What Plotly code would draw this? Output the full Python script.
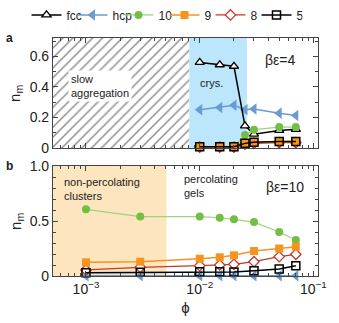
import plotly.graph_objects as go

# ---------------- data ----------------
phi_a = [0.01, 0.015, 0.02, 0.025, 0.03, 0.05, 0.07]
a_fcc = [0.56, 0.545, 0.535, 0.145, 0.09, 0.115, 0.122]
a_hcp = [0.25, 0.265, 0.28, 0.25, 0.255, 0.228, 0.212]
a_10 = [0.005, 0.005, 0.008, 0.085, 0.12, 0.137, 0.137]
a_9 = [0.008, 0.008, 0.008, 0.03, 0.037, 0.042, 0.042]
a_8 = [0.006, 0.006, 0.006, 0.025, 0.03, 0.035, 0.035]
a_5 = [0.008, 0.008, 0.008, 0.03, 0.037, 0.042, 0.042]

phi_b = [0.001, 0.003, 0.01, 0.015, 0.02, 0.03, 0.05, 0.07]
b_hcp = [0.002, 0.002, 0.002, 0.002, 0.002, 0.002, 0.002, 0.002]
b_10 = [0.606, 0.54, 0.54, 0.53, 0.515, 0.49, 0.40, 0.327]
b_9 = [0.124, 0.13, 0.157, 0.17, 0.188, 0.227, 0.25, 0.267]
b_8 = [0.055, 0.079, 0.094, 0.1, 0.106, 0.13, 0.176, 0.197]
b_5 = [0.03, 0.033, 0.039, 0.039, 0.036, 0.048, 0.064, 0.094]

series_names = ["fcc", "hcp", "10", "9", "8", "5"]

# region boundaries (phi)
x_min_log, x_max_log = -3.29, -0.96
hatch_end = 0.0081
crys_end = 0.026
noperc_end = 0.0051
ya_max = 0.72
yb_max = 1.0

xtick_vals = [0.001, 0.01, 0.1]
xtick_text = ["10<sup>−3</sup>", "10<sup>−2</sup>", "10<sup>−1</sup>"]

FONT = "Liberation Sans, Arial, sans-serif"

styles = {
    "fcc": dict(line=dict(color="black", width=1.5),
                marker=dict(symbol="triangle-up", size=8, color="white",
                            line=dict(color="black", width=1.3))),
    "hcp": dict(line=dict(color="#6A9BD2", width=1.5),
                marker=dict(symbol="triangle-left", size=10, color="#6A9BD2",
                            line=dict(width=0))),
    "10": dict(line=dict(color="#9ED27E", width=1.2),
               marker=dict(symbol="circle", size=8, color="#73BF45",
                           line=dict(width=0))),
    "9": dict(line=dict(color="#F7931E", width=1.5),
              marker=dict(symbol="square", size=8, color="#F7931E",
                          line=dict(width=0))),
    "8": dict(line=dict(color="#C0392B", width=1.3),
              marker=dict(symbol="diamond", size=8, color="white",
                          line=dict(color="#C0392B", width=1.3))),
    "5": dict(line=dict(color="black", width=1.5),
              marker=dict(symbol="square-open", size=8, color="black",
                          line=dict(color="black", width=1.5))),
}

fig = go.Figure()

# background regions
xlo = 10 ** x_min_log
fig.add_trace(go.Scatter(
    x=[xlo, hatch_end, hatch_end, xlo, xlo], y=[0, 0, ya_max, ya_max, 0],
    mode="none", fill="toself", fillcolor="white",
    fillpattern=dict(shape="/", fgcolor="#222222", bgcolor="white",
                     size=7, solidity=0.22),
    showlegend=False, hoverinfo="skip", xaxis="x", yaxis="y"))
fig.add_trace(go.Scatter(
    x=[hatch_end, crys_end, crys_end, hatch_end, hatch_end],
    y=[0, 0, ya_max, ya_max, 0],
    mode="none", fill="toself", fillcolor="#BBE6FB",
    showlegend=False, hoverinfo="skip", xaxis="x", yaxis="y"))
fig.add_trace(go.Scatter(
    x=[xlo, noperc_end, noperc_end, xlo, xlo], y=[0, 0, yb_max, yb_max, 0],
    mode="none", fill="toself", fillcolor="#FDE6BF",
    showlegend=False, hoverinfo="skip", xaxis="x2", yaxis="y2"))

data_a = {"fcc": a_fcc, "hcp": a_hcp, "10": a_10, "9": a_9, "8": a_8, "5": a_5}
data_b = {"hcp": b_hcp, "10": b_10, "9": b_9, "8": b_8, "5": b_5}
draw_order = ["hcp", "fcc", "10", "8", "9", "5"]
rank = {n: i for i, n in enumerate(series_names)}

for name in draw_order:
    st = styles[name]
    fig.add_trace(go.Scatter(
        x=phi_a, y=data_a[name], mode="lines+markers", name=name,
        line=st["line"], marker=st["marker"], cliponaxis=False,
        legendgroup=name, legendrank=rank[name], showlegend=True,
        xaxis="x", yaxis="y"))
for name in draw_order:
    if name not in data_b:
        continue
    st = styles[name]
    fig.add_trace(go.Scatter(
        x=phi_b, y=data_b[name], mode="lines+markers", name=name,
        line=st["line"], marker=st["marker"], cliponaxis=False,
        legendgroup=name, showlegend=False,
        xaxis="x2", yaxis="y2"))

axis_common = dict(showline=True, linecolor="#444444", linewidth=1.2,
                   mirror="allticks", ticks="inside", ticklen=5,
                   tickcolor="#444444", showgrid=False, zeroline=False,
                   tickfont=dict(family=FONT, size=14, color="#222222"))

xcommon = dict(axis_common, type="log", range=[x_min_log, x_max_log],
               tickvals=xtick_vals, ticktext=xtick_text,
               minor=dict(ticks="inside", ticklen=3, tickcolor="#444444",
                          dtick="D1", showgrid=False))

fig.update_layout(
    width=339, height=323, autosize=False,
    margin=dict(l=53, r=21, t=38, b=47, autoexpand=False),
    paper_bgcolor="white", plot_bgcolor="white",
    font=dict(family=FONT, size=12, color="#222222"),
    hovermode=False,
    xaxis=dict(xcommon, domain=[0, 1], anchor="y", showticklabels=False),
    yaxis=dict(axis_common, domain=[0.538, 1.0], anchor="x",
               range=[0, ya_max], tickvals=[0, 0.2, 0.4, 0.6],
               ticktext=["0", "0.2", "0.4", "0.6"],
               minor=dict(ticks="inside", ticklen=3, tickcolor="#444444",
                          dtick=0.1, showgrid=False)),
    xaxis2=dict(xcommon, domain=[0, 1], anchor="y2",
                title=dict(text="ϕ", standoff=6,
                           font=dict(family=FONT, size=15))),
    yaxis2=dict(axis_common, domain=[0, 0.462], anchor="x2",
                range=[0, yb_max], tickvals=[0, 0.5, 1.0],
                ticktext=["0", "0.5", "1.0"],
                minor=dict(ticks="inside", ticklen=3, tickcolor="#444444",
                           dtick=0.1, showgrid=False)),
    legend=dict(orientation="h", xref="paper", x=-0.1, xanchor="left",
                y=1.097, yanchor="middle", font=dict(family=FONT, size=12),
                entrywidth=1, itemwidth=30, tracegroupgap=0,
                bgcolor="rgba(0,0,0,0)"),
)

ann = [
    dict(text="<b>a</b>", xref="paper", yref="paper", x=-0.165, y=1.0,
         font=dict(size=12)),
    dict(text="<b>b</b>", xref="paper", yref="paper", x=-0.165, y=0.462,
         font=dict(size=12)),
    dict(text="n<sub>m</sub>", xref="paper", yref="paper", x=-0.14,
         y=0.769, textangle=-90, font=dict(size=15)),
    dict(text="n<sub>m</sub>", xref="paper", yref="paper", x=-0.14,
         y=0.231, textangle=-90, font=dict(size=15)),
    dict(text="slow<br>aggregation", xref="x domain", yref="y domain",
         x=0.057, y=0.564, xanchor="left", align="left", bgcolor="white",
         borderpad=2, font=dict(size=11)),
    dict(text="crys.", xref="x domain", yref="y domain", x=0.548, y=0.59,
         xanchor="left", font=dict(size=11)),
    dict(text="βε=4", xref="x domain", yref="y domain", x=0.857, y=0.8,
         font=dict(size=14)),
    dict(text="non-percolating<br>clusters", xref="x2 domain",
         yref="y2 domain", x=0.035, y=0.795, xanchor="left", align="left",
         font=dict(size=11)),
    dict(text="percolating<br>gels", xref="x2 domain", yref="y2 domain",
         x=0.487, y=0.818, xanchor="left", align="left", font=dict(size=11)),
    dict(text="βε=10", xref="x2 domain", yref="y2 domain", x=0.877, y=0.81,
         font=dict(size=14)),
]
for a in ann:
    a.setdefault("showarrow", False)
    a.setdefault("xanchor", "center")
    a.setdefault("yanchor", "middle")
    a["font"] = dict(family=FONT, color="#222222", **a["font"])
    fig.add_annotation(**a)

fig.write_html("out.html", config={"displayModeBar": False},
               post_script="document.body.style.margin='0';")
